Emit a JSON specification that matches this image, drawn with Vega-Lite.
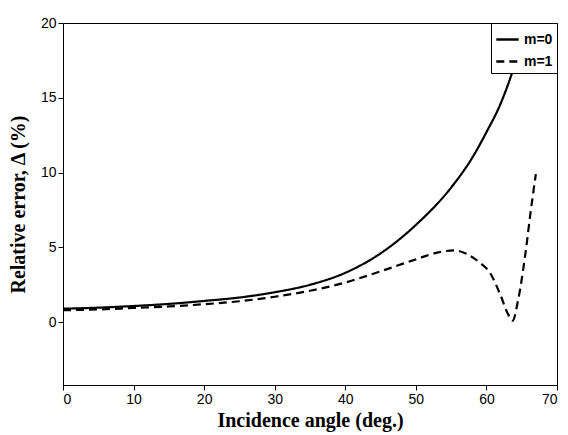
{
  "$schema": "https://vega.github.io/schema/vega-lite/v6.json",
  "width": 568,
  "height": 435,
  "autosize": {"type": "fit", "contains": "padding"},
  "background": "white",
  "padding": {"left": 8, "top": 16, "right": 10, "bottom": 5},
  "data": {"values": [
    {"a": 0, "e": 0.9, "m": "m=0"}, {"a": 5, "e": 0.97, "m": "m=0"}, {"a": 10, "e": 1.08, "m": "m=0"},
    {"a": 15, "e": 1.22, "m": "m=0"}, {"a": 20, "e": 1.42, "m": "m=0"}, {"a": 25, "e": 1.65, "m": "m=0"},
    {"a": 30, "e": 2.0, "m": "m=0"}, {"a": 35, "e": 2.5, "m": "m=0"}, {"a": 40, "e": 3.3, "m": "m=0"},
    {"a": 45, "e": 4.6, "m": "m=0"}, {"a": 50, "e": 6.5, "m": "m=0"}, {"a": 55, "e": 9.0, "m": "m=0"},
    {"a": 58, "e": 11.0, "m": "m=0"}, {"a": 60, "e": 12.7, "m": "m=0"}, {"a": 62, "e": 14.6, "m": "m=0"},
    {"a": 64, "e": 17.2, "m": "m=0"}, {"a": 65, "e": 18.8, "m": "m=0"}, {"a": 66, "e": 20.5, "m": "m=0"},
    {"a": 0, "e": 0.8, "m": "m=1"}, {"a": 5, "e": 0.85, "m": "m=1"}, {"a": 10, "e": 0.95, "m": "m=1"},
    {"a": 15, "e": 1.05, "m": "m=1"}, {"a": 20, "e": 1.2, "m": "m=1"}, {"a": 25, "e": 1.4, "m": "m=1"},
    {"a": 30, "e": 1.7, "m": "m=1"}, {"a": 35, "e": 2.1, "m": "m=1"}, {"a": 40, "e": 2.65, "m": "m=1"},
    {"a": 45, "e": 3.4, "m": "m=1"}, {"a": 50, "e": 4.2, "m": "m=1"}, {"a": 53, "e": 4.65, "m": "m=1"},
    {"a": 55.5, "e": 4.8, "m": "m=1"}, {"a": 57, "e": 4.6, "m": "m=1"}, {"a": 59, "e": 4.0, "m": "m=1"},
    {"a": 60.5, "e": 3.3, "m": "m=1"}, {"a": 62, "e": 1.8, "m": "m=1"}, {"a": 63, "e": 0.6, "m": "m=1"},
    {"a": 63.7, "e": 0.1, "m": "m=1"}, {"a": 64.5, "e": 1.5, "m": "m=1"}, {"a": 65.5, "e": 4.5, "m": "m=1"},
    {"a": 66.3, "e": 7.5, "m": "m=1"}, {"a": 67, "e": 9.9, "m": "m=1"}
  ]},
  "mark": {"type": "line", "clip": true, "color": "black", "strokeWidth": 2.2, "interpolate": "monotone"},
  "encoding": {
    "x": {"field": "a", "type": "quantitative", "title": "Incidence angle (deg.)",
      "scale": {"domain": [0, 70], "nice": false},
      "axis": {"values": [0, 10, 20, 30, 40, 50, 60, 70], "grid": false, "titleFont": "Liberation Serif", "titleFontSize": 20, "titleFontWeight": "bold", "labelFont": "Liberation Sans", "labelFontSize": 14, "labelColor": "black", "domainColor": "black", "tickColor": "black", "titleColor": "black"}},
    "y": {"field": "e", "type": "quantitative", "title": "Relative error, Δ (%)",
      "scale": {"domain": [-4.2, 20], "nice": false, "zero": false},
      "axis": {"values": [0, 5, 10, 15, 20], "grid": false, "titleFont": "Liberation Serif", "titleFontSize": 20, "titleFontWeight": "bold", "titlePadding": 12, "labelFont": "Liberation Sans", "labelFontSize": 14, "labelColor": "black", "domainColor": "black", "tickColor": "black", "titleColor": "black"}},
    "strokeDash": {"field": "m", "type": "nominal",
      "scale": {"domain": ["m=0", "m=1"], "range": [[1, 0], [8, 5]]},
      "legend": {"title": null, "orient": "top-right", "offset": 0, "strokeColor": "black", "padding": 4, "labelFont": "Liberation Sans", "labelFontSize": 14, "labelFontWeight": "bold", "symbolSize": 500, "symbolStrokeWidth": 2.5, "symbolStrokeColor": "black", "symbolType": "stroke", "fillColor": "white"}}
  },
  "config": {"view": {"stroke": "black"}}
}
